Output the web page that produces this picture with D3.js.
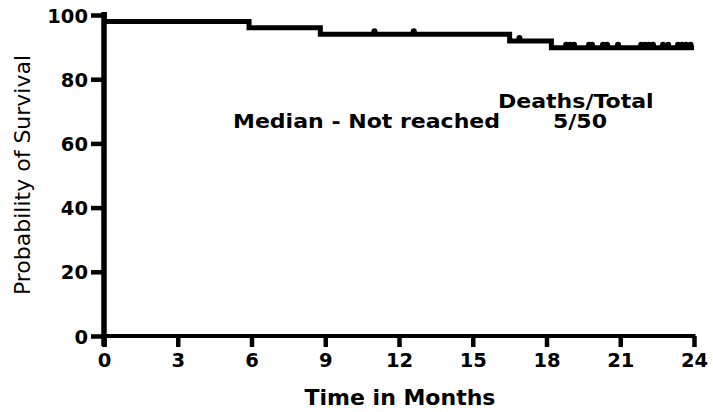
<!DOCTYPE html>
<html>
<head>
<meta charset="utf-8">
<script src="https://cdn.jsdelivr.net/npm/d3@7"></script>
<style>
  body { margin: 0; background: #fff; }
  svg text { font-family: "DejaVu Sans", Verdana, sans-serif; fill: #000; }
</style>
</head>
<body>
<div id="chart"></div>
<script>
// Kaplan-Meier steps (months, % surviving)
const stepTimes = [0, 0.02, 5.9, 8.8, 16.5, 18.2, 24];
const stepSurvival = [100, 98, 96, 94, 91.9, 89.8, 89.8];

// Censored patients (tick marks on the curve)
const censorTimes = [11.0, 12.6, 16.9, 18.8, 18.96, 19.12, 19.73, 19.85, 20.3, 20.46,
  20.91, 21.85, 22.01, 22.17, 22.33, 22.74, 22.95, 23.35, 23.52, 23.68, 23.86];

const xTicks = [0, 3, 6, 9, 12, 15, 18, 21, 24];
const yTicks = [0, 20, 40, 60, 80, 100];

const svgWidth = 713, svgHeight = 412;

const svg = d3.select("#chart").append("svg")
  .attr("width", svgWidth)
  .attr("height", svgHeight);

// Scales
const x = d3.scaleLinear().domain([0, 24]).range([104, 694]);
const y = d3.scaleLinear().domain([0, 100]).range([336, 15]);

// survival value at time t (step after)
function survivalAt(t) {
  let s = stepSurvival[0];
  stepTimes.forEach((d, i) => { if (d <= t) s = stepSurvival[i]; });
  return s;
}

// Y axis
const gY = svg.append("g").attr("class", "y axis")
  .attr("transform", `translate(${x(0)},0)`)
  .call(d3.axisLeft(y).tickValues(yTicks).tickSize(13).tickSizeOuter(0).tickPadding(3));
gY.select(".domain").remove();
gY.selectAll(".tick line").attr("stroke", "#000").attr("stroke-width", 4.5);
gY.selectAll(".tick text")
  .attr("font-size", 19.5).attr("font-weight", "bold").attr("dy", "0.36em");
gY.append("line")
  .attr("x1", 0).attr("x2", 0)
  .attr("y1", y(0) + 10).attr("y2", y(100) - 3)
  .attr("stroke", "#000").attr("stroke-width", 5.5);

// X axis
const gX = svg.append("g").attr("class", "x axis")
  .attr("transform", `translate(0,${y(0)})`)
  .call(d3.axisBottom(x).tickValues(xTicks).tickSize(11).tickSizeOuter(0).tickPadding(6));
gX.select(".domain").remove();
gX.selectAll(".tick line").attr("stroke", "#000").attr("stroke-width", 4.5);
gX.selectAll(".tick text")
  .attr("font-size", 19.5).attr("font-weight", "bold").attr("dy", "0.72em");
gX.append("line")
  .attr("x1", x(0)).attr("x2", x(24) + 1.5)
  .attr("y1", 0).attr("y2", 0)
  .attr("stroke", "#000").attr("stroke-width", 4);

// Survival curve
const line = d3.line()
  .x((d) => x(d[0]))
  .y((d) => y(d[1]))
  .curve(d3.curveStepAfter);

svg.append("path")
  .datum(d3.zip(stepTimes, stepSurvival))
  .attr("fill", "none")
  .attr("stroke", "#000")
  .attr("stroke-width", 5)
  .attr("d", line);

// Censor marks
svg.append("g").attr("class", "censor")
  .selectAll("circle")
  .data(censorTimes)
  .join("circle")
  .attr("cx", (d) => x(d))
  .attr("cy", (d) => y(survivalAt(d)) - 3)
  .attr("r", 3)
  .attr("fill", "#000");

// Axis titles
svg.append("text")
  .attr("transform", `translate(30,175) rotate(-90)`)
  .attr("text-anchor", "middle")
  .attr("font-size", 22)
  .text("Probability of Survival");

svg.append("text")
  .attr("x", 400).attr("y", 405)
  .attr("text-anchor", "middle")
  .attr("font-size", 22)
  .attr("font-weight", "bold")
  .text("Time in Months");

// Annotation (text in the source is a bit wider than it is tall)
const note = svg.append("g").attr("font-weight", "bold").attr("font-size", 19);
[
  { x: 498, y: 108, t: "Deaths/Total" },
  { x: 233, y: 128, t: "Median - Not reached" },
  { x: 553, y: 128, t: "5/50" },
].forEach((d) => {
  note.append("text")
    .attr("transform", `translate(${d.x},${d.y}) scale(1.16,1)`)
    .text(d.t);
});
</script>
</body>
</html>
